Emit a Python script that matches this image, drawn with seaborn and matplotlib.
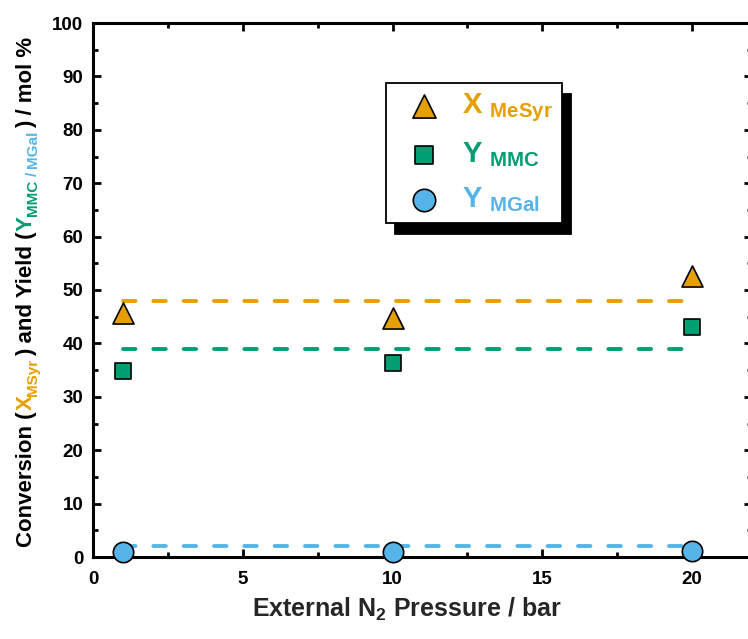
import matplotlib
matplotlib.use('Agg')
import matplotlib.pyplot as plt
from matplotlib.ticker import MultipleLocator
import seaborn as sns

# Données
pressure = [1, 10, 20]
x_mesyr = [45.7, 44.8, 52.7]
y_mmc = [34.8, 36.4, 43.0]
y_mgal = [0.9, 0.9, 1.2]

# Niveaux moyens (lignes pointillées)
level_x = [1, 20]
level_mesyr = [48, 48]
level_mmc = [39, 39]
level_mgal = [2, 2]

series_labels = [r"X $_{MeSyr}$", r"Y $_{MMC}$", r"Y $_{MGal}$"]

orange = '#E69F00'
green = '#009E73'
blue = '#56B4E9'

sns.set_style('ticks')
plt.rcParams['font.family'] = ['Liberation Sans', 'DejaVu Sans']
plt.rcParams['font.weight'] = 'bold'
plt.rcParams['mathtext.fontset'] = 'custom'
plt.rcParams['mathtext.rm'] = 'Liberation Sans:bold'
plt.rcParams['mathtext.bf'] = 'Liberation Sans:bold'
plt.rcParams['mathtext.it'] = 'Liberation Sans:bold'
plt.rcParams['mathtext.default'] = 'rm'

W, H = 748, 639
fig = plt.figure(figsize=(W / 100, H / 100), dpi=100)
ax = fig.add_axes([93 / W, 82 / H, 659 / W, 534 / H])

### Lignes pointillées ###
for ly, c in [(level_mesyr, orange), (level_mmc, green), (level_mgal, blue)]:
    sns.lineplot(x=level_x, y=ly, ax=ax, color=c, lw=2.8,
                 linestyle=(0, (3.2, 4.6)), dash_capstyle='round', zorder=2)

### Points ###
sns.scatterplot(x=pressure, y=x_mesyr, ax=ax, marker='^', s=230, color=orange,
                edgecolor='black', linewidth=1.2, label=series_labels[0], zorder=3, clip_on=False)
sns.scatterplot(x=pressure, y=y_mmc, ax=ax, marker='s', s=125, color=green,
                edgecolor='black', linewidth=1.2, label=series_labels[1], zorder=3, clip_on=False)
sns.scatterplot(x=pressure, y=y_mgal, ax=ax, marker='o', s=215, color=blue,
                edgecolor='black', linewidth=1.2, label=series_labels[2], zorder=3, clip_on=False)

### Axes ###
ax.set_xlim(0, 22)
ax.set_ylim(0, 100)
ax.xaxis.set_major_locator(MultipleLocator(5))
ax.xaxis.set_minor_locator(MultipleLocator(2.5))
ax.yaxis.set_major_locator(MultipleLocator(10))
ax.yaxis.set_minor_locator(MultipleLocator(5))
for sp in ax.spines.values():
    sp.set_linewidth(2.2)
    sp.set_color('black')
ax.tick_params(which='both', direction='in', top=True, right=True, width=2, colors='black')
ax.tick_params(which='major', length=6, labelsize=13.5, pad=7)
ax.tick_params(axis='x', which='major', pad=10)
ax.tick_params(which='minor', length=3.5)
for lab in ax.get_xticklabels() + ax.get_yticklabels():
    lab.set_fontweight('bold')

ax.set_xlabel(r"External N$_2$ Pressure / bar", fontsize=18, fontweight='bold')
ax.xaxis.set_label_coords((407 - 93) / 659, -0.072)
ax.set_ylabel('')

### Légende ###
h, l = ax.get_legend_handles_labels()
leg = ax.legend(h, l, loc='upper left', bbox_to_anchor=(0.445, 0.888), frameon=True,
                fancybox=False, edgecolor='black', framealpha=1,
                shadow={'ox': 6.5, 'oy': -8, 'facecolor': 'black', 'edgecolor': 'black', 'alpha': 1},
                prop={'size': 21, 'weight': 'bold'}, labelspacing=0.55, borderpad=0.3,
                handlelength=2.0, handletextpad=0.3, borderaxespad=0, markerscale=1.1)
leg.get_frame().set_linewidth(1.3)
for t, c in zip(leg.get_texts(), [orange, green, blue]):
    t.set_color(c)

### Label vertical multicolore ###
ylabel_pieces = [
    ("Conversion (", 'black', 16, 0, 0),
    ("X", orange, 16, 0, 1),
    ("MSyr", orange, 11, 5, 0),
    (") and Yield (", 'black', 16, 0, 2),
    ("Y", green, 16, 0, 1),
    ("MMC", green, 11, 5, 0),
    ("/", blue, 11, 5, 4),
    ("MGal", blue, 11, 5, 4),
    (") / mol %", 'black', 16, 0, 2),
]

renderer = fig.canvas.get_renderer()
texts, lengths, gaps = [], [], []
for s, c, fs, dx, gap in ylabel_pieces:
    t = fig.text(0, 0, s, color=c, fontsize=fs, fontweight='bold', rotation=90,
                 rotation_mode='anchor', ha='left', va='baseline')
    texts.append((t, dx))
    lengths.append(t.get_window_extent(renderer).height)
    gaps.append(gap)

total = sum(lengths) + sum(gaps)
yc = H - 292
base_x = 32
pos = yc - total / 2
for (t, dx), L, g in zip(texts, lengths, gaps):
    pos += g
    t.set_position(((base_x + dx) / W, pos / H))
    pos += L

fig.savefig('out.png', dpi=100)
